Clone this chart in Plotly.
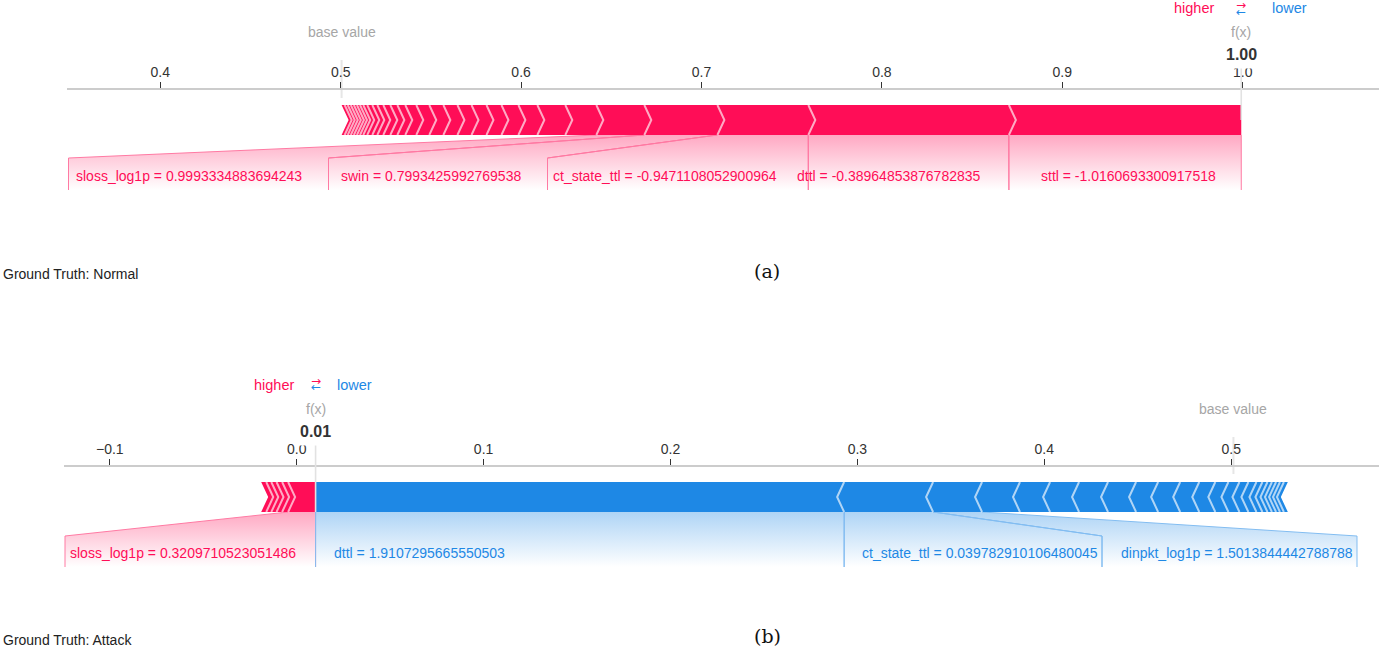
import plotly.graph_objects as go

W, H = 1379, 652
RED = "rgb(255,13,87)"
BLUE = "rgb(30,136,229)"
RED_LINE = "#ff7aa3"
BLUE_LINE = "#83bdf1"
FONT = "Arial, Liberation Sans, sans-serif"

# ---------------- data ----------------
# Panel (a) -- Ground Truth: Normal
base_a = 0.5005
feat_a = ["sttl", "dttl", "ct_state_ttl", "swin", "sloss_log1p"]
fval_a = ["-1.0160693300917518", "-0.38964853876782835", "-0.9471108052900964",
          "0.7993425992769538", "0.9993334883694243"]
shap_a = [0.1288, 0.1112, 0.0504, 0.0405, 0.0266]
rest_pos_a = [0.0172, 0.0155, 0.0105, 0.0094, 0.0083, 0.0083, 0.0078, 0.0078,
              0.0078, 0.0072, 0.0061, 0.0044, 0.0039, 0.0039, 0.0033, 0.0028,
              0.0028, 0.0022, 0.0018, 0.0017, 0.0017, 0.0017, 0.0017, 0.0017, 0.0017]
rest_neg_a = []
ticks_a = [0.4, 0.5, 0.6, 0.7, 0.8, 0.9, 1.0]

# Panel (b) -- Ground Truth: Attack
base_b = 0.5012
feat_b_pos = ["sloss_log1p"]
fval_b_pos = ["0.3209710523051486"]
shap_b_pos = [0.0147]
feat_b_neg = ["dttl", "ct_state_ttl", "dinpkt_log1p"]
fval_b_neg = ["1.9107295665550503", "0.039782910106480045", "1.5013844442788788"]
shap_b_neg = [-0.2828, -0.0476, -0.0262]
rest_pos_b = [0.0032, 0.0030, 0.0028, 0.0027, 0.0027]
rest_neg_b = [-0.0203, -0.0161, -0.0155, -0.0155, -0.0150, -0.0118, -0.0118,
              -0.0102, -0.0086, -0.0070, -0.0059, -0.0048, -0.0043, -0.0032,
              -0.0027, -0.0024, -0.0022, -0.0021, -0.0021, -0.0021]
ticks_b = [-0.1, 0.0, 0.1, 0.2, 0.3, 0.4, 0.5]

# ---------------- layout geometry (pixels) ----------------
PA = dict(x="x", y="y", px0=340.7, v0=0.5, ppu=1804.0, x_left=67, axis_y=90,
          y_bottom=205, bar_top=105, bar_bot=135, kink=158, box_bot=190, text_y=175.5,
          top_txt=8.3, fx_lbl=32.3, fx_val=54.5, hi_off=25.5, lo_off=29,
          arr_r=5.2, arr_b=11.6, base_line=(60, 98), fx_line=(62, 120), gt_y=274,
          gt="Ground Truth: Normal", cap="(a)", cap_y=271)
PB = dict(x="x2", y="y2", px0=296.7, v0=0.0, ppu=1869.0, x_left=64, axis_y=467,
          y_bottom=580, bar_top=482, bar_bot=512, kink=536, box_bot=567, text_y=553,
          top_txt=385, fx_lbl=409, fx_val=432, hi_off=19.5, lo_off=19.5,
          arr_r=381, arr_b=387.5, base_line=(437, 474), fx_line=(440, 512), gt_y=640,
          gt="Ground Truth: Attack", cap="(b)", cap_y=636)

# label boxes (px, None = segment edge) and text centres (px)
BOX_A = {"sttl": (None, None), "dttl": (None, None), "ct_state_ttl": (547.5, None),
         "swin": (328.5, 547.5), "sloss_log1p": (68.5, 328.5)}
TXT_A = {"sttl": 1128, "dttl": 888.7, "ct_state_ttl": 665, "swin": 430.5, "sloss_log1p": 188.7}
BOX_B = {"sloss_log1p": (65, None), "dttl": (None, None), "ct_state_ttl": (None, 1102),
         "dinpkt_log1p": (1102, 1357)}
TXT_B = {"sloss_log1p": 183, "dttl": 419, "ct_state_ttl": 980, "dinpkt_log1p": 1237}

CHEV = 7.0  # chevron depth px

fig = go.Figure()
annotations = []
shapes = []


def val(P, px):
    return P["v0"] + (px - P["px0"]) / P["ppu"]


def ypaper(py):
    return 1 - py / H


def add_panel(P, base, pos_feats, pos_fvals, pos_vals, rest_pos,
              neg_feats, neg_fvals, neg_vals, rest_neg, boxes, txts):
    fx = base + sum(pos_vals) + sum(rest_pos) + sum(neg_vals) + sum(rest_neg)
    d = CHEV / P["ppu"]
    top, bot = P["bar_top"], P["bar_bot"]
    mid = (top + bot) / 2
    xr, yr = P["x"], P["y"]

    # --- blocks ---
    segs = []  # (kind, left, right)
    rx, ry, rsx, rsy = [], [], [], []
    right = fx
    for i, v in enumerate(pos_vals + rest_pos):
        left = right - v
        tip = 0 if i == 0 else d
        rx += [left, right, right + tip, right, left, left + d, left, None]
        ry += [top, top, mid, bot, bot, mid, top, None]
        if i > 0:
            rsx += [right, right + d, right, None]
            rsy += [top, mid, bot, None]
        segs.append(("pos", left, right))
        right = left
    bx, by, bsx, bsy = [], [], [], []
    left = fx
    for i, v in enumerate(neg_vals + rest_neg):
        r = left - v
        tip = 0 if i == 0 else d
        bx += [r, left, left - tip, left, r, r - d, r, None]
        by += [top, top, mid, bot, bot, mid, top, None]
        if i > 0:
            bsx += [left, left - d, left, None]
            bsy += [top, mid, bot, None]
        segs.append(("neg", left, r))
        left = r

    # --- label polygons ---
    labelled = []
    pos_segs = [s for s in segs if s[0] == "pos"]
    neg_segs = [s for s in segs if s[0] == "neg"]
    for i, f in enumerate(pos_feats):
        labelled.append((f, pos_fvals[i], pos_segs[i], RED, RED_LINE, "255,13,87"))
    for i, f in enumerate(neg_feats):
        labelled.append((f, neg_fvals[i], neg_segs[i], BLUE, BLUE_LINE, "30,136,229"))

    for f, fv, seg, col, lcol, rgb in labelled:
        _, sl, sr = seg
        b0, b1 = boxes[f]
        bl = sl if b0 is None else val(P, b0)
        br = sr if b1 is None else val(P, b1)
        k, bb = P["kink"], P["box_bot"]
        fig.add_trace(go.Scatter(
            x=[sl, sr, br, br, bl, bl, sl], y=[bot, bot, k, bb, bb, k, bot],
            xaxis=xr, yaxis=yr, mode="lines", line=dict(width=0), fill="toself",
            fillgradient=dict(type="vertical", start=bot, stop=bb,
                              colorscale=[[0, "rgba(%s,0.36)" % rgb], [1, "rgba(%s,0.0)" % rgb]]),
            hoverinfo="skip", showlegend=False))
        fig.add_trace(go.Scatter(
            x=[sl, bl, bl, None, sr, br, br], y=[bot, k, bb, None, bot, k, bb],
            xaxis=xr, yaxis=yr, mode="lines", line=dict(color=lcol, width=1),
            hoverinfo="skip", showlegend=False))
        annotations.append(dict(x=val(P, txts[f]), xref=xr, y=ypaper(P["text_y"]), yref="paper",
                                text="%s = %s" % (f, fv), showarrow=False, xanchor="center",
                                yanchor="middle", font=dict(family=FONT, size=14, color=col)))

    # bars on top
    if rx:
        fig.add_trace(go.Scatter(x=rx, y=ry, xaxis=xr, yaxis=yr, mode="lines", line=dict(width=0),
                                 fill="toself", fillcolor=RED, hoverinfo="skip", showlegend=False))
        fig.add_trace(go.Scatter(x=rsx, y=rsy, xaxis=xr, yaxis=yr, mode="lines",
                                 line=dict(color="rgba(255,255,255,0.65)", width=2),
                                 hoverinfo="skip", showlegend=False))
    if bx:
        fig.add_trace(go.Scatter(x=bx, y=by, xaxis=xr, yaxis=yr, mode="lines", line=dict(width=0),
                                 fill="toself", fillcolor=BLUE, hoverinfo="skip", showlegend=False))
        fig.add_trace(go.Scatter(x=bsx, y=bsy, xaxis=xr, yaxis=yr, mode="lines",
                                 line=dict(color="rgba(255,255,255,0.65)", width=2),
                                 hoverinfo="skip", showlegend=False))

    # --- vertical marker lines ---
    shapes.append(dict(type="line", xref=xr, yref="paper", x0=base, x1=base,
                       y0=ypaper(P["base_line"][0]), y1=ypaper(P["base_line"][1]),
                       line=dict(color="#e6e6e6", width=2), layer="below"))
    shapes.append(dict(type="line", xref=xr, yref="paper", x0=fx, x1=fx,
                       y0=ypaper(P["fx_line"][0]), y1=ypaper(P["fx_line"][1]),
                       line=dict(color="#e2e2e2", width=1.6), layer="above"))

    # --- header texts ---
    ppu = P["ppu"]
    annotations.append(dict(x=base, xref=xr, y=ypaper(P["fx_lbl"]), yref="paper", text="base value",
                            showarrow=False, font=dict(family=FONT, size=14, color="#a6a6a6"),
                            xanchor="center", yanchor="middle"))
    annotations.append(dict(x=fx, xref=xr, y=ypaper(P["fx_lbl"]), yref="paper", text="f(x)",
                            showarrow=False, font=dict(family=FONT, size=14, color="#a6a6a6"),
                            xanchor="center", yanchor="middle"))
    annotations.append(dict(x=fx, xref=xr, y=ypaper(P["fx_val"]), yref="paper",
                            text="<b>%.2f</b>" % fx, showarrow=False,
                            font=dict(family=FONT, size=16, color="#333333"),
                            xanchor="center", yanchor="middle", bgcolor="white", borderpad=5))
    annotations.append(dict(x=fx - P["hi_off"] / ppu, xref=xr, y=ypaper(P["top_txt"]), yref="paper",
                            text="higher", showarrow=False,
                            font=dict(family=FONT, size=14.5, color=RED),
                            xanchor="right", yanchor="middle"))
    annotations.append(dict(x=fx + P["lo_off"] / ppu, xref=xr, y=ypaper(P["top_txt"]), yref="paper",
                            text="lower", showarrow=False,
                            font=dict(family=FONT, size=14.5, color=BLUE),
                            xanchor="left", yanchor="middle"))
    annotations.append(dict(x=fx, xref=xr, y=ypaper(P["arr_r"]), yref="paper", text="→",
                            showarrow=False, font=dict(family="DejaVu Sans", size=12, color=RED),
                            xanchor="center", yanchor="middle"))
    annotations.append(dict(x=fx, xref=xr, y=ypaper(P["arr_b"]), yref="paper", text="←",
                            showarrow=False, font=dict(family="DejaVu Sans", size=12, color=BLUE),
                            xanchor="center", yanchor="middle"))
    annotations.append(dict(x=1 / W, xref="paper", y=ypaper(P["gt_y"]), yref="paper", text=P["gt"],
                            showarrow=False, font=dict(family=FONT, size=14, color="#222222"),
                            xanchor="left", yanchor="middle"))
    annotations.append(dict(x=767 / W, xref="paper", y=ypaper(P["cap_y"]), yref="paper", text=P["cap"],
                            showarrow=False, font=dict(family="DejaVu Serif", size=19, color="#111111"),
                            xanchor="center", yanchor="middle"))


add_panel(PA, base_a, feat_a, fval_a, shap_a, rest_pos_a, [], [], [], rest_neg_a, BOX_A, TXT_A)
add_panel(PB, base_b, feat_b_pos, fval_b_pos, shap_b_pos, rest_pos_b,
          feat_b_neg, fval_b_neg, shap_b_neg, rest_neg_b, BOX_B, TXT_B)


def xaxis_cfg(P, ticks, anchor):
    return dict(domain=[P["x_left"] / W, 1], range=[val(P, P["x_left"]), val(P, W)],
                anchor=anchor, side="top", showline=True, linecolor="#cccccc", linewidth=1.5,
                ticks="outside", ticklen=6, tickwidth=1.3, tickcolor="#333333",
                tickvals=ticks, tickformat=".1f",
                tickfont=dict(family=FONT, size=14, color="#333333"),
                showgrid=False, zeroline=False, fixedrange=True)


def yaxis_cfg(P):
    return dict(domain=[ypaper(P["y_bottom"]), ypaper(P["axis_y"])],
                range=[P["y_bottom"], P["axis_y"]], visible=False, fixedrange=True,
                showgrid=False, zeroline=False)


fig.update_layout(
    width=W, height=H, margin=dict(l=0, r=0, t=0, b=0),
    paper_bgcolor="white", plot_bgcolor="white", showlegend=False,
    xaxis=xaxis_cfg(PA, ticks_a, "y"), yaxis=yaxis_cfg(PA),
    xaxis2=xaxis_cfg(PB, ticks_b, "y2"), yaxis2=yaxis_cfg(PB),
    annotations=annotations, shapes=shapes,
)

fig.write_html("out.html", config={"displayModeBar": False},
               post_script="document.body.style.margin='0px';document.body.style.overflow='hidden';")
